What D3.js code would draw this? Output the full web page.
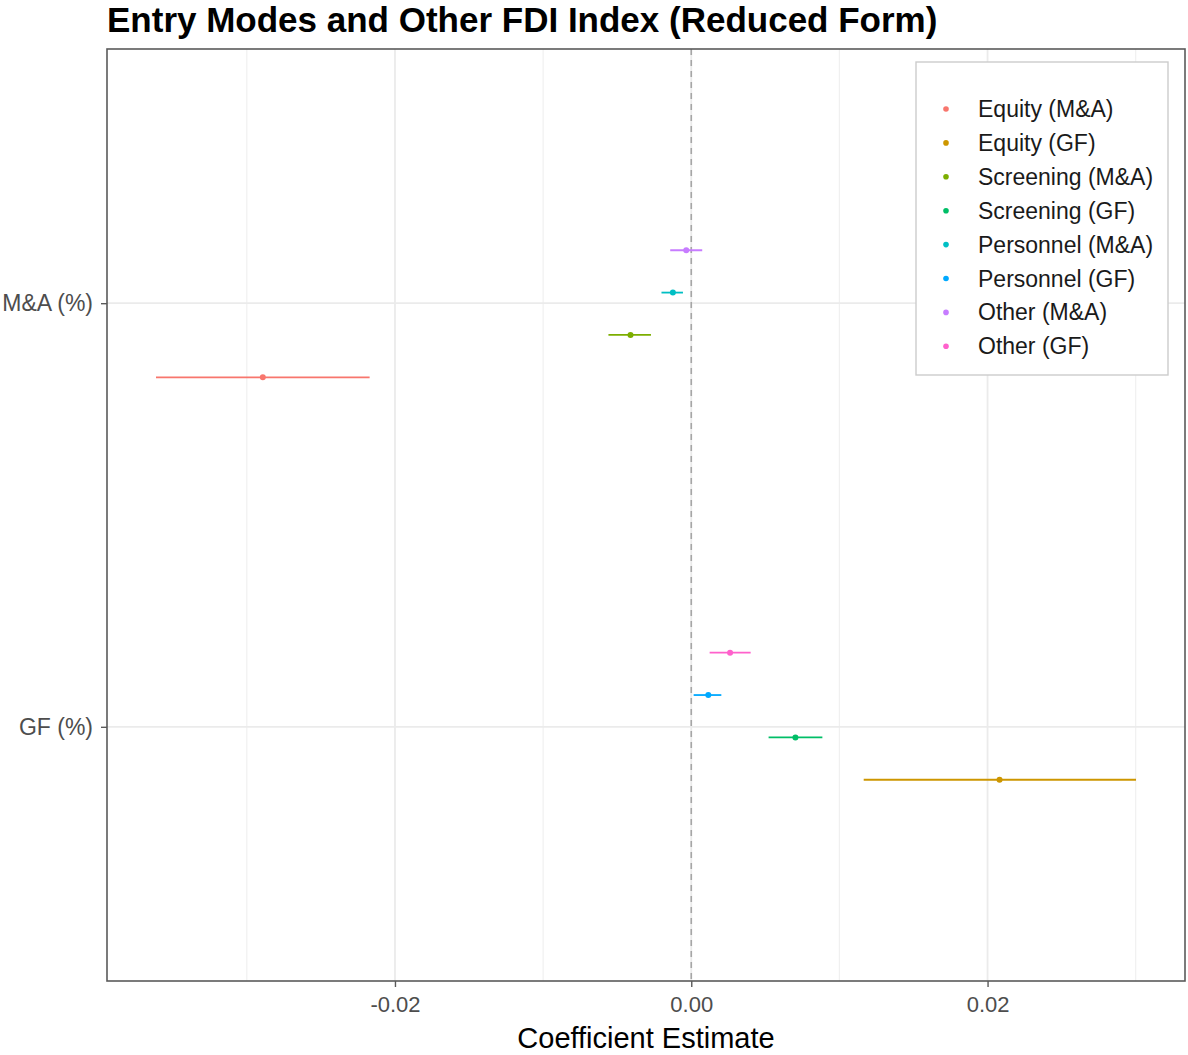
<!DOCTYPE html>
<html>
<head>
<meta charset="utf-8">
<script src="https://cdn.jsdelivr.net/npm/d3@7"></script>
<style>
  body { margin: 0; background: #fff; }
  text { font-family: "Liberation Sans", Arial, sans-serif; }
</style>
</head>
<body>
<div id="chart"></div>
<script>
// Coefficient estimates with confidence intervals
const seriesNames = ["Equity (M&A)", "Equity (GF)", "Screening (M&A)", "Screening (GF)",
                     "Personnel (M&A)", "Personnel (GF)", "Other (M&A)", "Other (GF)"];
const seriesGroup = ["M&A (%)", "GF (%)", "M&A (%)", "GF (%)",
                     "M&A (%)", "GF (%)", "M&A (%)", "GF (%)"];
const estimates = [-0.02892, 0.02081, -0.00410, 0.00703, -0.00124, 0.00115, -0.00034, 0.00262];
const lower = [-0.03613, 0.01164, -0.00559, 0.00522, -0.00201, 0.00016, -0.00142, 0.00124];
const upper = [-0.02171, 0.03002, -0.00272, 0.00885, -0.00056, 0.00203, 0.00074, 0.00401];
const groups = ["M&A (%)", "GF (%)"];
const xTicks = [-0.02, 0.00, 0.02];
const xMinor = [-0.03, -0.01, 0.01, 0.03];
const colors = ["#F8766D", "#CD9600", "#7CAE00", "#00BE67", "#00BFC4", "#00A9FF", "#C77CFF", "#FF61CC"];

const width = 1188, height = 1055;
const panel = { left: 107, top: 49, right: 1185, bottom: 981 };

const svg = d3.select("#chart").append("svg")
    .attr("width", width)
    .attr("height", height);

// x domain with ggplot's 5% expansion
const lo = d3.min(lower), hi = d3.max(upper);
const pad = (hi - lo) * 0.05;
const x = d3.scaleLinear()
    .domain([lo - pad, hi + pad])
    .range([panel.left, panel.right]);

const y = d3.scalePoint()
    .domain(groups)
    .range([panel.top, panel.bottom])
    .padding(0.6);

const dodge = y.step() * 0.05;
const rows = seriesNames.map((name, i) => ({
    name: name,
    est: estimates[i],
    lo: lower[i],
    hi: upper[i],
    color: colors[i],
    y: y(seriesGroup[i]) - (i - 3.5) * dodge
}));

// Grid
const grid = svg.append("g");
grid.selectAll(".minor")
    .data(xMinor)
    .enter()
    .append("line")
    .attr("x1", d => x(d)).attr("x2", d => x(d))
    .attr("y1", panel.top).attr("y2", panel.bottom)
    .attr("stroke", "#f0f0f0")
    .attr("stroke-width", 1.2);
grid.selectAll(".major")
    .data(xTicks)
    .enter()
    .append("line")
    .attr("x1", d => x(d)).attr("x2", d => x(d))
    .attr("y1", panel.top).attr("y2", panel.bottom)
    .attr("stroke", "#ebebeb")
    .attr("stroke-width", 1.8);
grid.selectAll(".hmajor")
    .data(groups)
    .enter()
    .append("line")
    .attr("x1", panel.left).attr("x2", panel.right)
    .attr("y1", d => y(d)).attr("y2", d => y(d))
    .attr("stroke", "#ebebeb")
    .attr("stroke-width", 1.8);

// Zero reference line
svg.append("line")
    .attr("x1", x(0)).attr("x2", x(0))
    .attr("y1", panel.top).attr("y2", panel.bottom)
    .attr("stroke", "#a6a6a6")
    .attr("stroke-width", 1.6)
    .attr("stroke-dasharray", "6,5");

// Error bars and points
svg.selectAll(".bar")
    .data(rows)
    .enter()
    .append("line")
    .attr("x1", d => x(d.lo)).attr("x2", d => x(d.hi))
    .attr("y1", d => d.y).attr("y2", d => d.y)
    .attr("stroke", d => d.color)
    .attr("stroke-width", 1.8);

svg.selectAll(".pt")
    .data(rows)
    .enter()
    .append("circle")
    .attr("cx", d => x(d.est))
    .attr("cy", d => d.y)
    .attr("r", 3)
    .attr("fill", d => d.color);

// Panel border
svg.append("rect")
    .attr("x", panel.left).attr("y", panel.top)
    .attr("width", panel.right - panel.left)
    .attr("height", panel.bottom - panel.top)
    .attr("fill", "none")
    .attr("stroke", "#5a5a5a")
    .attr("stroke-width", 1.6);

// Axes
const xAxis = svg.append("g")
    .attr("transform", `translate(0,${panel.bottom})`)
    .call(d3.axisBottom(x).tickValues(xTicks).tickSize(6).tickPadding(9));
xAxis.select(".domain").remove();
xAxis.selectAll("line").attr("stroke", "#5a5a5a").attr("stroke-width", 1.4);
xAxis.selectAll("text").attr("fill", "#4d4d4d").style("font-size", "22px")
    .text(d => d3.format(".2f")(d).replace("−", "-"));

const yAxis = svg.append("g")
    .attr("transform", `translate(${panel.left},0)`)
    .call(d3.axisLeft(y).tickSize(6).tickPadding(8));
yAxis.select(".domain").remove();
yAxis.selectAll("line").attr("stroke", "#5a5a5a").attr("stroke-width", 1.4);
yAxis.selectAll("text").attr("fill", "#4d4d4d").style("font-size", "23px");

// Axis title
svg.append("text")
    .attr("x", (panel.left + panel.right) / 2)
    .attr("y", 1048)
    .attr("text-anchor", "middle")
    .style("font-size", "29px")
    .attr("fill", "#000")
    .text("Coefficient Estimate");

// Title
svg.append("text")
    .attr("x", panel.left)
    .attr("y", 32)
    .style("font-size", "35px")
    .style("font-weight", "bold")
    .attr("fill", "#000")
    .text("Entry Modes and Other FDI Index (Reduced Form)");

// Legend
const legend = svg.append("g");
legend.append("rect")
    .attr("x", 916).attr("y", 62)
    .attr("width", 252).attr("height", 313)
    .attr("fill", "#fff")
    .attr("stroke", "#cccccc")
    .attr("stroke-width", 1.4);

const keys = legend.selectAll(".key")
    .data(rows)
    .enter()
    .append("g")
    .attr("transform", (d, i) => `translate(946,${109 + i * 33.9})`);
keys.append("circle")
    .attr("r", 2.8)
    .attr("fill", d => d.color);
keys.append("text")
    .attr("x", 32)
    .attr("dy", "0.35em")
    .style("font-size", "23px")
    .attr("fill", "#1a1a1a")
    .text(d => d.name);
</script>
</body>
</html>
